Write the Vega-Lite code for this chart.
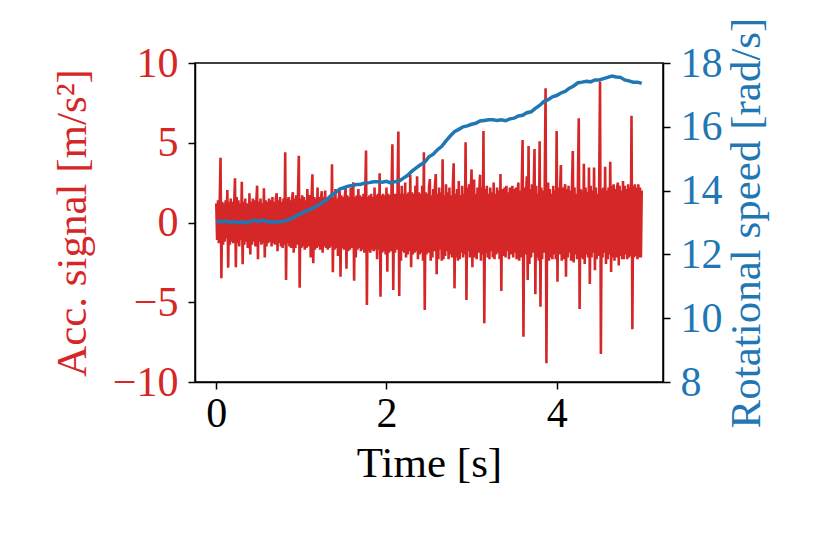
{
  "$schema": "https://vega.github.io/schema/vega-lite/v6.json",
  "width": 468,
  "height": 319,
  "autosize": {"type": "none"},
  "padding": {"left": 195, "top": 63, "right": 158, "bottom": 157},
  "background": "white",
  "config": {
    "font": "Liberation Serif",
    "view": {"stroke": "black", "strokeWidth": 1.5},
    "axis": {
      "grid": false,
      "domainColor": "black",
      "domainWidth": 1.5,
      "tickColor": "black",
      "tickWidth": 1.5,
      "tickSize": 7,
      "labelFont": "Liberation Serif",
      "titleFont": "Liberation Serif",
      "labelFontSize": 42,
      "titleFontSize": 43,
      "titleFontWeight": "normal",
      "labelColor": "black",
      "titleColor": "black"
    }
  },
  "datasets": {
    "acc": [
      {"t":0.00,"a":1.2},{"t":0.01,"a":-1.1},{"t":0.02,"a":1.4},{"t":0.03,"a":-1.3},{"t":0.04,"a":1.1},{"t":0.05,"a":4.06},{"t":0.06,"a":-3.5},{"t":0.07,"a":1.3},{"t":0.08,"a":-1.4},{"t":0.09,"a":1.2},
      {"t":0.10,"a":-1.2},{"t":0.11,"a":1.4},{"t":0.12,"a":-1.0},{"t":0.13,"a":2.04},{"t":0.14,"a":-2.83},{"t":0.15,"a":1.3},{"t":0.16,"a":-1.4},{"t":0.17,"a":1.5},{"t":0.18,"a":-1.2},{"t":0.19,"a":1.3},
      {"t":0.20,"a":-1.3},{"t":0.21,"a":1.1},{"t":0.22,"a":2.77},{"t":0.23,"a":-2.8},{"t":0.24,"a":1.6},{"t":0.25,"a":-1.3},{"t":0.26,"a":1.4},{"t":0.27,"a":-1.5},{"t":0.28,"a":1.2},{"t":0.29,"a":-1.1},
      {"t":0.30,"a":2.56},{"t":0.31,"a":-2.62},{"t":0.32,"a":1.3},{"t":0.33,"a":-1.4},{"t":0.34,"a":1.5},{"t":0.35,"a":-1.2},{"t":0.36,"a":1.2},{"t":0.37,"a":-1.6},{"t":0.38,"a":-1.3},{"t":0.39,"a":1.83},
      {"t":0.40,"a":-2.0},{"t":0.41,"a":1.3},{"t":0.42,"a":-1.4},{"t":0.43,"a":1.5},{"t":0.44,"a":-1.2},{"t":0.45,"a":1.4},{"t":0.46,"a":-1.5},{"t":0.47,"a":1.2},{"t":0.48,"a":2.31},{"t":0.49,"a":-2.3},
      {"t":0.50,"a":1.3},{"t":0.51,"a":-1.2},{"t":0.52,"a":1.5},{"t":0.53,"a":-1.4},{"t":0.54,"a":1.2},{"t":0.55,"a":-1.3},{"t":0.56,"a":2.14},{"t":0.57,"a":-2.2},{"t":0.58,"a":1.4},{"t":0.59,"a":-1.5},
      {"t":0.60,"a":1.3},{"t":0.61,"a":-1.3},{"t":0.62,"a":1.5},{"t":0.63,"a":-1.2},{"t":0.64,"a":1.4},{"t":0.65,"a":-1.5},{"t":0.66,"a":1.6},{"t":0.67,"a":-1.3},{"t":0.68,"a":1.3},{"t":0.69,"a":-1.4},
      {"t":0.70,"a":1.5},{"t":0.71,"a":1.83},{"t":0.72,"a":-1.8},{"t":0.73,"a":1.4},{"t":0.74,"a":-1.3},{"t":0.75,"a":1.6},{"t":0.76,"a":-1.5},{"t":0.77,"a":1.3},{"t":0.78,"a":-1.6},{"t":0.79,"a":1.5},
      {"t":0.80,"a":-1.4},{"t":0.81,"a":4.4},{"t":0.82,"a":-3.6},{"t":0.83,"a":1.5},{"t":0.84,"a":-1.3},{"t":0.85,"a":1.6},{"t":0.86,"a":-1.5},{"t":0.87,"a":1.4},{"t":0.88,"a":-1.6},{"t":0.89,"a":1.5},
      {"t":0.90,"a":1.9},{"t":0.91,"a":-1.9},{"t":0.92,"a":1.5},{"t":0.93,"a":-1.6},{"t":0.94,"a":1.7},{"t":0.95,"a":-1.4},{"t":0.96,"a":1.6},{"t":0.97,"a":4.19},{"t":0.98,"a":-4.09},{"t":0.99,"a":1.5},
      {"t":1.00,"a":-1.6},{"t":1.01,"a":1.7},{"t":1.02,"a":-1.5},{"t":1.03,"a":1.6},{"t":1.04,"a":-1.7},{"t":1.05,"a":1.4},{"t":1.06,"a":-1.6},{"t":1.07,"a":2.1},{"t":1.08,"a":-1.5},{"t":1.09,"a":1.6},
      {"t":1.10,"a":1.7},{"t":1.11,"a":-2.2},{"t":1.12,"a":1.5},{"t":1.13,"a":3.02},{"t":1.14,"a":-2.55},{"t":1.15,"a":1.6},{"t":1.16,"a":-1.7},{"t":1.17,"a":1.5},{"t":1.18,"a":-1.6},{"t":1.19,"a":2.2},
      {"t":1.20,"a":-1.5},{"t":1.21,"a":1.6},{"t":1.22,"a":-1.7},{"t":1.23,"a":1.5},{"t":1.24,"a":1.96},{"t":1.25,"a":-1.9},{"t":1.26,"a":1.6},{"t":1.27,"a":-1.5},{"t":1.28,"a":2.0},{"t":1.29,"a":-1.6},
      {"t":1.30,"a":1.5},{"t":1.31,"a":-1.7},{"t":1.32,"a":1.6},{"t":1.33,"a":-1.6},{"t":1.34,"a":1.7},{"t":1.35,"a":-1.5},{"t":1.36,"a":3.65},{"t":1.37,"a":-3.12},{"t":1.38,"a":1.6},{"t":1.39,"a":-1.7},
      {"t":1.40,"a":2.1},{"t":1.41,"a":-1.6},{"t":1.42,"a":1.5},{"t":1.43,"a":-2.1},{"t":1.44,"a":1.6},{"t":1.45,"a":2.0},{"t":1.46,"a":-3.4},{"t":1.47,"a":1.7},{"t":1.48,"a":-1.6},{"t":1.49,"a":1.6},
      {"t":1.50,"a":-1.7},{"t":1.51,"a":1.6},{"t":1.52,"a":2.14},{"t":1.53,"a":-2.9},{"t":1.54,"a":1.7},{"t":1.55,"a":-1.8},{"t":1.56,"a":1.6},{"t":1.57,"a":-1.7},{"t":1.58,"a":2.2},{"t":1.59,"a":-1.6},
      {"t":1.60,"a":1.7},{"t":1.61,"a":2.52},{"t":1.62,"a":-3.65},{"t":1.63,"a":1.6},{"t":1.64,"a":-2.2},{"t":1.65,"a":1.7},{"t":1.66,"a":-1.7},{"t":1.67,"a":2.1},{"t":1.68,"a":-1.6},{"t":1.69,"a":1.7},
      {"t":1.70,"a":-1.8},{"t":1.71,"a":1.6},{"t":1.72,"a":-1.7},{"t":1.73,"a":1.8},{"t":1.74,"a":-1.9},{"t":1.75,"a":1.7},{"t":1.76,"a":4.52},{"t":1.77,"a":-5.17},{"t":1.78,"a":1.6},{"t":1.79,"a":-1.8},
      {"t":1.80,"a":1.7},{"t":1.81,"a":-1.9},{"t":1.82,"a":1.8},{"t":1.83,"a":-1.7},{"t":1.84,"a":1.6},{"t":1.85,"a":-1.8},{"t":1.86,"a":2.2},{"t":1.87,"a":-1.7},{"t":1.88,"a":1.7},{"t":1.89,"a":-2.3},
      {"t":1.90,"a":1.8},{"t":1.91,"a":-1.7},{"t":1.92,"a":3.08},{"t":1.93,"a":-4.65},{"t":1.94,"a":1.7},{"t":1.95,"a":-1.9},{"t":1.96,"a":1.8},{"t":1.97,"a":-1.8},{"t":1.98,"a":1.7},{"t":1.99,"a":-2.0},
      {"t":2.00,"a":2.2},{"t":2.01,"a":-3.08},{"t":2.02,"a":1.8},{"t":2.03,"a":-1.9},{"t":2.04,"a":1.7},{"t":2.05,"a":-1.8},{"t":2.06,"a":2.2},{"t":2.07,"a":4.9},{"t":2.08,"a":-4.23},{"t":2.09,"a":1.8},
      {"t":2.10,"a":-1.9},{"t":2.11,"a":1.8},{"t":2.12,"a":-1.7},{"t":2.13,"a":1.9},{"t":2.14,"a":5.7},{"t":2.15,"a":-4.61},{"t":2.16,"a":1.8},{"t":2.17,"a":-2.4},{"t":2.18,"a":2.3},{"t":2.19,"a":-1.8},
      {"t":2.20,"a":1.8},{"t":2.21,"a":-1.9},{"t":2.22,"a":2.5},{"t":2.23,"a":-2.2},{"t":2.24,"a":1.8},{"t":2.25,"a":-2.0},{"t":2.26,"a":1.9},{"t":2.27,"a":-1.8},{"t":2.28,"a":2.98},{"t":2.29,"a":-2.8},
      {"t":2.30,"a":1.9},{"t":2.31,"a":-2.0},{"t":2.32,"a":1.8},{"t":2.33,"a":-1.9},{"t":2.34,"a":2.3},{"t":2.35,"a":-1.8},{"t":2.36,"a":2.9},{"t":2.37,"a":-2.3},{"t":2.38,"a":1.9},{"t":2.39,"a":-2.0},
      {"t":2.40,"a":1.8},{"t":2.41,"a":-1.9},{"t":2.42,"a":2.3},{"t":2.43,"a":-2.4},{"t":2.44,"a":4.4},{"t":2.45,"a":-5.49},{"t":2.46,"a":1.9},{"t":2.47,"a":-2.0},{"t":2.48,"a":1.8},{"t":2.49,"a":-1.9},
      {"t":2.50,"a":2.2},{"t":2.51,"a":2.72},{"t":2.52,"a":-2.4},{"t":2.53,"a":1.7},{"t":2.54,"a":-2.2},{"t":2.55,"a":2.1},{"t":2.56,"a":-1.8},{"t":2.57,"a":2.3},{"t":2.58,"a":3.04},{"t":2.59,"a":-3.25},
      {"t":2.60,"a":1.8},{"t":2.61,"a":-2.3},{"t":2.62,"a":2.2},{"t":2.63,"a":-1.7},{"t":2.64,"a":1.9},{"t":2.65,"a":-2.4},{"t":2.66,"a":3.96},{"t":2.67,"a":-2.3},{"t":2.68,"a":1.7},{"t":2.69,"a":-2.1},
      {"t":2.70,"a":2.4},{"t":2.71,"a":-1.8},{"t":2.72,"a":1.9},{"t":2.73,"a":-2.3},{"t":2.74,"a":2.2},{"t":2.75,"a":-2.0},{"t":2.76,"a":1.7},{"t":2.77,"a":-2.2},{"t":2.78,"a":2.3},{"t":2.79,"a":3.71},
      {"t":2.80,"a":-4.13},{"t":2.81,"a":1.8},{"t":2.82,"a":-2.2},{"t":2.83,"a":2.1},{"t":2.84,"a":-2.4},{"t":2.85,"a":2.6},{"t":2.86,"a":-2.3},{"t":2.87,"a":1.7},{"t":2.88,"a":-1.9},{"t":2.89,"a":2.3},
      {"t":2.90,"a":-2.2},{"t":2.91,"a":1.8},{"t":2.92,"a":-2.0},{"t":2.93,"a":5.03},{"t":2.94,"a":-4.86},{"t":2.95,"a":2.2},{"t":2.96,"a":-1.8},{"t":2.97,"a":2.4},{"t":2.98,"a":-2.2},{"t":2.99,"a":1.8},
      {"t":3.00,"a":3.33},{"t":3.01,"a":-2.8},{"t":3.02,"a":2.1},{"t":3.03,"a":2.7},{"t":3.04,"a":-2.2},{"t":3.05,"a":1.8},{"t":3.06,"a":-2.3},{"t":3.07,"a":2.2},{"t":3.08,"a":-1.9},{"t":3.09,"a":1.8},
      {"t":3.10,"a":3.0},{"t":3.11,"a":-2.4},{"t":3.12,"a":2.2},{"t":3.13,"a":-2.0},{"t":3.14,"a":5.74},{"t":3.15,"a":-6.32},{"t":3.16,"a":2.1},{"t":3.17,"a":-1.9},{"t":3.18,"a":2.3},{"t":3.19,"a":-2.2},
      {"t":3.20,"a":1.8},{"t":3.21,"a":-2.3},{"t":3.22,"a":2.2},{"t":3.23,"a":-1.8},{"t":3.24,"a":1.9},{"t":3.25,"a":-2.2},{"t":3.26,"a":2.5},{"t":3.27,"a":-2.3},{"t":3.28,"a":1.8},{"t":3.29,"a":-2.0},
      {"t":3.30,"a":2.2},{"t":3.31,"a":-1.9},{"t":3.32,"a":2.0},{"t":3.33,"a":-2.3},{"t":3.34,"a":3.04},{"t":3.35,"a":-4.3},{"t":3.36,"a":2.1},{"t":3.37,"a":-2.1},{"t":3.38,"a":1.7},{"t":3.39,"a":2.2},
      {"t":3.40,"a":-2.2},{"t":3.41,"a":2.3},{"t":3.42,"a":-1.8},{"t":3.43,"a":1.9},{"t":3.44,"a":-2.3},{"t":3.45,"a":2.2},{"t":3.46,"a":-2.0},{"t":3.47,"a":1.8},{"t":3.48,"a":2.3},{"t":3.49,"a":-2.2},
      {"t":3.50,"a":2.1},{"t":3.51,"a":-1.9},{"t":3.52,"a":2.2},{"t":3.53,"a":-2.3},{"t":3.54,"a":1.8},{"t":3.55,"a":2.5},{"t":3.56,"a":-2.4},{"t":3.57,"a":2.0},{"t":3.58,"a":-2.2},{"t":3.59,"a":2.3},
      {"t":3.60,"a":5.17},{"t":3.61,"a":-7.16},{"t":3.62,"a":2.2},{"t":3.63,"a":-2.0},{"t":3.64,"a":1.8},{"t":3.65,"a":2.9},{"t":3.66,"a":-3.6},{"t":3.67,"a":4.8},{"t":3.68,"a":-2.6},{"t":3.69,"a":2.1},
      {"t":3.70,"a":-2.2},{"t":3.71,"a":2.4},{"t":3.72,"a":-1.9},{"t":3.73,"a":2.0},{"t":3.74,"a":4.6},{"t":3.75,"a":-4.5},{"t":3.76,"a":2.3},{"t":3.77,"a":-2.2},{"t":3.78,"a":1.8},{"t":3.79,"a":-2.4},
      {"t":3.80,"a":5.1},{"t":3.81,"a":-5.28},{"t":3.82,"a":2.2},{"t":3.83,"a":-2.3},{"t":3.84,"a":2.0},{"t":3.85,"a":-1.9},{"t":3.86,"a":2.3},{"t":3.87,"a":8.41},{"t":3.88,"a":-8.83},{"t":3.89,"a":2.1},
      {"t":3.90,"a":2.5},{"t":3.91,"a":-2.4},{"t":3.92,"a":2.1},{"t":3.93,"a":-2.2},{"t":3.94,"a":1.8},{"t":3.95,"a":-2.3},{"t":3.96,"a":2.3},{"t":3.97,"a":-2.0},{"t":3.98,"a":2.0},{"t":3.99,"a":-2.3},
      {"t":4.00,"a":5.74},{"t":4.01,"a":-3.71},{"t":4.02,"a":2.2},{"t":4.03,"a":-2.0},{"t":4.04,"a":1.9},{"t":4.05,"a":3.6},{"t":4.06,"a":-2.4},{"t":4.07,"a":2.2},{"t":4.08,"a":-2.3},{"t":4.09,"a":1.8},
      {"t":4.10,"a":2.4},{"t":4.11,"a":-3.4},{"t":4.12,"a":2.1},{"t":4.13,"a":-2.2},{"t":4.14,"a":2.3},{"t":4.15,"a":-1.9},{"t":4.16,"a":2.0},{"t":4.17,"a":-2.4},{"t":4.18,"a":2.2},{"t":4.19,"a":4.48},
      {"t":4.20,"a":-2.5},{"t":4.21,"a":2.2},{"t":4.22,"a":-2.0},{"t":4.23,"a":1.8},{"t":4.24,"a":-2.3},{"t":4.25,"a":2.3},{"t":4.26,"a":6.53},{"t":4.27,"a":-5.42},{"t":4.28,"a":2.1},{"t":4.29,"a":-2.2},
      {"t":4.30,"a":2.0},{"t":4.31,"a":-2.3},{"t":4.32,"a":3.69},{"t":4.33,"a":-2.6},{"t":4.34,"a":2.2},{"t":4.35,"a":-2.0},{"t":4.36,"a":1.9},{"t":4.37,"a":-2.2},{"t":4.38,"a":3.45},{"t":4.39,"a":-3.85},
      {"t":4.40,"a":2.3},{"t":4.41,"a":-2.2},{"t":4.42,"a":2.0},{"t":4.43,"a":-1.9},{"t":4.44,"a":3.45},{"t":4.45,"a":-3.0},{"t":4.46,"a":2.2},{"t":4.47,"a":-2.3},{"t":4.48,"a":1.8},{"t":4.49,"a":-2.1},
      {"t":4.50,"a":2.3},{"t":4.51,"a":8.83},{"t":4.52,"a":-8.25},{"t":4.53,"a":2.1},{"t":4.54,"a":-2.2},{"t":4.55,"a":2.2},{"t":4.56,"a":-1.9},{"t":4.57,"a":3.5},{"t":4.58,"a":-2.6},{"t":4.59,"a":2.0},
      {"t":4.60,"a":-2.3},{"t":4.61,"a":2.2},{"t":4.62,"a":-2.0},{"t":4.63,"a":3.81},{"t":4.64,"a":-3.1},{"t":4.65,"a":2.3},{"t":4.66,"a":-2.2},{"t":4.67,"a":2.4},{"t":4.68,"a":-2.4},{"t":4.69,"a":2.1},
      {"t":4.70,"a":-2.2},{"t":4.71,"a":2.2},{"t":4.72,"a":2.5},{"t":4.73,"a":-2.7},{"t":4.74,"a":2.3},{"t":4.75,"a":-2.1},{"t":4.76,"a":2.0},{"t":4.77,"a":-2.3},{"t":4.78,"a":2.6},{"t":4.79,"a":-2.3},
      {"t":4.80,"a":2.3},{"t":4.81,"a":-2.0},{"t":4.82,"a":2.1},{"t":4.83,"a":-2.3},{"t":4.84,"a":2.4},{"t":4.85,"a":-2.2},{"t":4.86,"a":2.2},{"t":4.87,"a":-2.1},{"t":4.88,"a":6.7},{"t":4.89,"a":-6.7},
      {"t":4.90,"a":2.3},{"t":4.91,"a":-2.2},{"t":4.92,"a":2.4},{"t":4.93,"a":-2.1},{"t":4.94,"a":2.2},{"t":4.95,"a":-2.3},{"t":4.96,"a":2.4},{"t":4.97,"a":-2.2},{"t":4.98,"a":2.2},{"t":4.99,"a":-2.2},
      {"t":5.00,"a":2.0}
    ],
    "speed": [
      {"t":0.00,"w":13.05},{"t":0.05,"w":13.02},{"t":0.10,"w":13.05},{"t":0.15,"w":13.00},{"t":0.20,"w":13.04},
      {"t":0.25,"w":12.99},{"t":0.30,"w":13.03},{"t":0.35,"w":12.98},{"t":0.40,"w":13.04},{"t":0.45,"w":13.07},
      {"t":0.50,"w":13.03},{"t":0.55,"w":13.08},{"t":0.60,"w":13.02},{"t":0.65,"w":13.03},{"t":0.70,"w":13.01},
      {"t":0.75,"w":13.03},{"t":0.80,"w":13.04},{"t":0.85,"w":13.09},{"t":0.90,"w":13.14},{"t":0.95,"w":13.23},
      {"t":1.00,"w":13.28},{"t":1.05,"w":13.36},{"t":1.10,"w":13.40},{"t":1.15,"w":13.48},{"t":1.20,"w":13.54},
      {"t":1.25,"w":13.63},{"t":1.30,"w":13.72},{"t":1.35,"w":13.85},{"t":1.40,"w":13.93},{"t":1.45,"w":14.05},
      {"t":1.50,"w":14.09},{"t":1.55,"w":14.14},{"t":1.60,"w":14.16},{"t":1.65,"w":14.19},{"t":1.70,"w":14.20},
      {"t":1.75,"w":14.24},{"t":1.80,"w":14.25},{"t":1.85,"w":14.28},{"t":1.90,"w":14.28},{"t":1.95,"w":14.26},
      {"t":2.00,"w":14.29},{"t":2.05,"w":14.24},{"t":2.10,"w":14.28},{"t":2.15,"w":14.30},{"t":2.20,"w":14.39},
      {"t":2.25,"w":14.48},{"t":2.30,"w":14.61},{"t":2.35,"w":14.71},{"t":2.40,"w":14.81},{"t":2.45,"w":14.89},
      {"t":2.50,"w":15.06},{"t":2.55,"w":15.14},{"t":2.60,"w":15.28},{"t":2.65,"w":15.39},{"t":2.70,"w":15.56},
      {"t":2.75,"w":15.71},{"t":2.80,"w":15.85},{"t":2.85,"w":15.92},{"t":2.90,"w":16.00},{"t":2.95,"w":16.03},
      {"t":3.00,"w":16.08},{"t":3.05,"w":16.11},{"t":3.10,"w":16.18},{"t":3.15,"w":16.20},{"t":3.20,"w":16.22},
      {"t":3.25,"w":16.22},{"t":3.30,"w":16.20},{"t":3.35,"w":16.22},{"t":3.40,"w":16.19},{"t":3.45,"w":16.25},
      {"t":3.50,"w":16.27},{"t":3.55,"w":16.34},{"t":3.60,"w":16.36},{"t":3.65,"w":16.44},{"t":3.70,"w":16.47},
      {"t":3.75,"w":16.58},{"t":3.80,"w":16.67},{"t":3.85,"w":16.79},{"t":3.90,"w":16.85},{"t":3.95,"w":16.94},
      {"t":4.00,"w":16.98},{"t":4.05,"w":17.06},{"t":4.10,"w":17.11},{"t":4.15,"w":17.21},{"t":4.20,"w":17.28},
      {"t":4.25,"w":17.38},{"t":4.30,"w":17.40},{"t":4.35,"w":17.43},{"t":4.40,"w":17.41},{"t":4.45,"w":17.47},
      {"t":4.50,"w":17.47},{"t":4.55,"w":17.51},{"t":4.60,"w":17.55},{"t":4.65,"w":17.59},{"t":4.70,"w":17.56},
      {"t":4.75,"w":17.55},{"t":4.80,"w":17.47},{"t":4.85,"w":17.44},{"t":4.90,"w":17.40},{"t":4.95,"w":17.40},
      {"t":5.00,"w":17.36}
    ]
  },
  "layer": [
    {
      "data": {"name": "acc"},
      "mark": {"type": "line", "color": "#d62728", "strokeWidth": 2.6, "clip": true},
      "encoding": {
        "x": {
          "field": "t",
          "type": "quantitative",
          "scale": {"domain": [-0.25, 5.25], "nice": false, "zero": false},
          "axis": {"values": [0, 2, 4], "title": "Time [s]", "labelPadding": 4, "titlePadding": 8, "format": "d"}
        },
        "y": {
          "field": "a",
          "type": "quantitative",
          "scale": {"domain": [-10, 10], "nice": false},
          "axis": {
            "orient": "left",
            "values": [-10, -5, 0, 5, 10],
            "title": "Acc. signal [m/s²]",
            "labelColor": "#d62728",
            "titleColor": "#d62728",
            "labelPadding": 10,
            "titlePadding": 18
          }
        }
      }
    },
    {
      "data": {"name": "speed"},
      "mark": {"type": "line", "color": "#1f77b4", "strokeWidth": 3.5, "clip": true},
      "encoding": {
        "x": {"field": "t", "type": "quantitative"},
        "y": {
          "field": "w",
          "type": "quantitative",
          "scale": {"domain": [8, 18], "nice": false, "zero": false},
          "axis": {
            "orient": "right",
            "values": [8, 10, 12, 14, 16, 18],
            "title": "Rotational speed [rad/s]",
            "labelColor": "#1f77b4",
            "titleColor": "#1f77b4",
            "labelPadding": 10,
            "titleAngle": -90,
            "titleBaseline": "top",
            "titlePadding": 3
          }
        }
      }
    }
  ],
  "resolve": {"scale": {"y": "independent"}}
}
